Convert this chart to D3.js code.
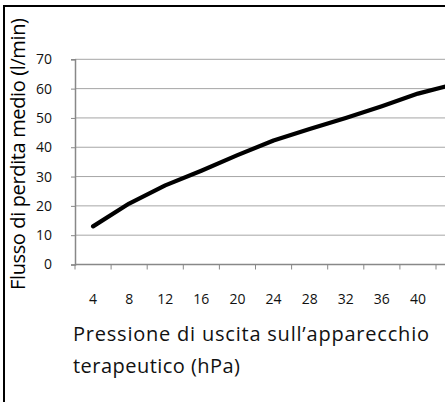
<!DOCTYPE html>
<html>
<head>
<meta charset="utf-8">
<script src="https://cdn.jsdelivr.net/npm/d3@7"></script>
<style>
  body { margin: 0; background: #fff; }
  svg { display: block; font-family: "Open Sans", "Noto Sans", sans-serif; }
</style>
</head>
<body>
<svg id="canvas" width="445" height="402"></svg>
<script>
var width = 445;
var height = 402;

// pressure (hPa) categories and mean leak flow (l/min)
var pressure = [4, 8, 12, 16, 20, 24, 28, 32, 36, 40, 44];
var flow = [13, 20.8, 27, 32, 37.3, 42.3, 46.2, 50, 54, 58.3, 61.5];
var yTicks = [0, 10, 20, 30, 40, 50, 60, 70];

var plotLeft = 75, plotTop = 59.3, plotBottom = 264.5;
var band = 36.1;

var svg = d3.select("#canvas");

// outer frame (cropped on the right and bottom)
svg.append("rect")
  .attr("x", 4).attr("y", 6)
  .attr("width", 460).attr("height", 420)
  .attr("fill", "none")
  .attr("stroke", "#000")
  .attr("stroke-width", 2);

var xScale = d3.scaleBand()
  .domain(pressure)
  .range([plotLeft, plotLeft + band * pressure.length]);

var yScale = d3.scaleLinear()
  .domain([0, 70])
  .range([plotBottom, plotTop]);

// gridlines
svg.append("g")
  .selectAll("line")
  .data(yTicks.slice(1))
  .enter().append("line")
  .attr("x1", plotLeft).attr("x2", width)
  .attr("y1", function(d) { return yScale(d); })
  .attr("y2", function(d) { return yScale(d); })
  .attr("stroke", "#a6a6a6")
  .attr("stroke-width", 1);

// y axis
var yAxis = svg.append("g")
  .attr("transform", "translate(" + plotLeft + ",0)")
  .call(d3.axisLeft(yScale).tickValues(yTicks).tickSize(4).tickPadding(19));
yAxis.select(".domain").attr("stroke", "#888").attr("stroke-width", 1.5);
yAxis.selectAll(".tick line").attr("stroke", "#888");
yAxis.selectAll("text").attr("font-size", 14).attr("fill", "#111")
  .attr("font-family", "'Open Sans', sans-serif");

// x axis: ticks between categories
var xAxisG = svg.append("g");
xAxisG.append("line")
  .attr("x1", plotLeft).attr("x2", width)
  .attr("y1", plotBottom).attr("y2", plotBottom)
  .attr("stroke", "#888").attr("stroke-width", 1.5);
xAxisG.selectAll("line.tk")
  .data(pressure)
  .enter().append("line")
  .attr("class", "tk")
  .attr("x1", function(d) { return xScale(d); })
  .attr("x2", function(d) { return xScale(d); })
  .attr("y1", plotBottom).attr("y2", plotBottom + 5)
  .attr("stroke", "#888");
xAxisG.selectAll("text")
  .data(pressure.filter(function(d) { return d <= 40; }))
  .enter().append("text")
  .attr("x", function(d) { return xScale(d) + xScale.bandwidth() / 2; })
  .attr("y", 304)
  .attr("text-anchor", "middle")
  .attr("font-size", 14)
  .attr("fill", "#111")
  .text(function(d) { return d; });

// data line
var line = d3.line()
  .x(function(d, i) { return xScale(pressure[i]) + xScale.bandwidth() / 2; })
  .y(function(d) { return yScale(d); });

svg.append("path")
  .datum(flow)
  .attr("d", line)
  .attr("fill", "none")
  .attr("stroke", "#000")
  .attr("stroke-width", 4.2)
  .attr("stroke-linecap", "round")
  .attr("stroke-linejoin", "round");

// axis titles
svg.append("text")
  .attr("transform", "translate(25,154) rotate(-90)")
  .attr("text-anchor", "middle")
  .attr("font-size", 20)
  .attr("fill", "#000")
  .attr("textLength", 272)
  .attr("lengthAdjust", "spacing")
  .text("Flusso di perdita medio (l/min)");

var xt = svg.append("text")
  .attr("font-size", 20)
  .attr("fill", "#111");
xt.append("tspan").attr("x", 73).attr("y", 341)
  .attr("textLength", 356).attr("lengthAdjust", "spacing")
  .text("Pressione di uscita sull\u2019apparecchio");
xt.append("tspan").attr("x", 73).attr("y", 373)
  .attr("textLength", 167).attr("lengthAdjust", "spacing")
  .text("terapeutico (hPa)");
</script>
</body>
</html>
